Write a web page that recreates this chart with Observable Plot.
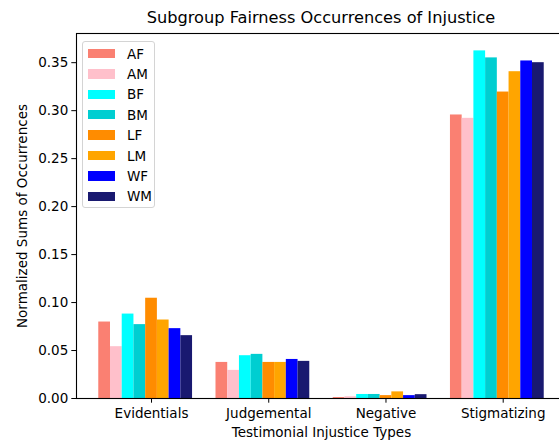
<!DOCTYPE html>
<html>
<head>
<meta charset="utf-8">
<script src="https://cdn.jsdelivr.net/npm/d3@7"></script>
<script src="https://cdn.jsdelivr.net/npm/@observablehq/plot@0.6"></script>
<style>
  html, body { margin: 0; padding: 0; background: #fff; overflow: hidden; width: 559px; height: 441px; }
  #wrap { position: relative; width: 559px; height: 441px; overflow: hidden; font-family: "DejaVu Sans", sans-serif; }
  #title { position: absolute; top: 8px; left: 76px; width: 490px; text-align: center; font-size: 16.2px; color: #000; }
  #legend { position: absolute; left: 82px; top: 41px; width: 73px; height: 167px; border: 1px solid #d4d4d4; border-radius: 3px; background: rgba(255,255,255,0.8); box-sizing: border-box; }
  .item { position: absolute; left: 5px; height: 20px; display: flex; align-items: center; font-size: 13.5px; color: #000; }
  .sw { width: 26.5px; height: 9.5px; margin-right: 12.5px; }
  #chart { position: absolute; left: 0; top: 0; width: 575px; }
  #chart svg { max-width: none !important; }
</style>
</head>
<body>
<div id="wrap">
  <div id="chart"></div>
  <div id="title">Subgroup Fairness Occurrences of Injustice</div>
  <div id="legend"></div>
</div>
<script>
const categories = ["Evidentials", "Judgemental", "Negative", "Stigmatizing"];
const groups = ["AF", "AM", "BF", "BM", "LF", "LM", "WF", "WM"];
const colors = ["#fa8072", "#ffc0cb", "#00ffff", "#00ced1", "#ff8c00", "#ffa500", "#0000ff", "#191970"];

const AF = [0.0797, 0.0376, 0.0010, 0.2955];
const AM = [0.0540, 0.0293, 0.0018, 0.2920];
const BF = [0.0880, 0.0446, 0.0042, 0.3623];
const BM = [0.0770, 0.0460, 0.0042, 0.3550];
const LF = [0.1045, 0.0376, 0.0030, 0.3194];
const LM = [0.0818, 0.0376, 0.0069, 0.3406];
const WF = [0.0728, 0.0407, 0.0030, 0.3518];
const WM = [0.0655, 0.0387, 0.0040, 0.3500];
const series = [AF, AM, BF, BM, LF, LM, WF, WM];

const yTicks = [0, 0.05, 0.10, 0.15, 0.20, 0.25, 0.30, 0.35];

// Bar j of category i is centred at i + (j - 4) * barWidth (as in the matplotlib source)
const barWidth = 0.1;
const rows = [];
categories.forEach((c, i) => {
  groups.forEach((g, j) => {
    const center = i + (j - 4) * barWidth;
    rows.push({category: c, group: g, value: series[j][i], x1: center - barWidth / 2, x2: center + barWidth / 2});
  });
});

const xmin = d3.min(rows, d => d.x1), xmax = d3.max(rows, d => d.x2);
const xm = (xmax - xmin) * 0.05;
const ymax = d3.max(rows, d => d.value) * 1.05;

const W = 575, H = 441;
const chart = Plot.plot({
  width: W,
  height: H,
  marginLeft: 76,
  marginRight: W - 566,
  marginTop: 33,
  marginBottom: 43,
  style: {fontFamily: "DejaVu Sans, sans-serif", fontSize: "13.5px", color: "#000", background: "transparent", maxWidth: "none"},
  x: {domain: [xmin - xm, xmax + xm]},
  y: {domain: [0, ymax]},
  color: {domain: groups, range: colors},
  marks: [
    Plot.rectY(rows, {x1: "x1", x2: "x2", y1: 0, y2: "value", fill: "group"}),
    Plot.axisY({ticks: yTicks, tickFormat: d3.format(".2f"), tickSize: 4.7, tickPadding: 3.5, stroke: "#000", strokeOpacity: 1, fontSize: 13.5, label: null}),
    Plot.text(["Normalized Sums of Occurrences"], {frameAnchor: "left", textAnchor: "middle", rotate: -90, dx: -54, fontSize: 13.5, fill: "#000"}),
    Plot.axisX({ticks: d3.range(categories.length), tickFormat: i => categories[i], tickSize: 4.7, tickPadding: 5, stroke: "#000", strokeOpacity: 1, fontSize: 13.5, label: null}),
    Plot.text(["Testimonial Injustice Types"], {frameAnchor: "bottom", dy: 38, fontSize: 13.5, fill: "#000"}),
    Plot.frame({stroke: "#000", strokeWidth: 1.1})
  ]
});
document.getElementById("chart").appendChild(chart);

const legend = document.getElementById("legend");
groups.forEach((g, j) => {
  const it = document.createElement("div");
  it.className = "item";
  it.style.top = (1.5 + j * 20.4) + "px";
  const sw = document.createElement("div");
  sw.className = "sw";
  sw.style.background = colors[j];
  const lab = document.createElement("span");
  lab.textContent = g;
  it.appendChild(sw);
  it.appendChild(lab);
  legend.appendChild(it);
});
</script>
</body>
</html>
